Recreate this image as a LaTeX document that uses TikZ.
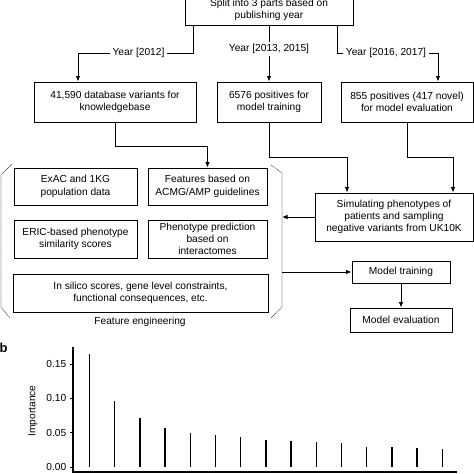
\documentclass[tikz,border=0pt]{standalone}
\usepackage{fontspec}
\setmainfont{Liberation Sans}
\usetikzlibrary{arrows.meta}
\newcommand\fsz{\fontsize{10.2}{12.3}\selectfont}
\begin{document}
\begin{tikzpicture}[x=1pt,y=-1pt,
  box/.style={draw,line width=0.9pt,align=center,inner sep=1pt,font=\fsz},
  arr/.style={line width=0.9pt,-{Latex[length=5.5pt,width=4.5pt]}},
  lab/.style={fill=white,inner sep=2.5pt,font=\fsz},
  brk/.style={line width=0.8pt,black!65,dash pattern=on 0.8pt off 0.7pt},
  bar/.style={line width=1.3pt},
  axis/.style={line width=1.5pt},
  tick/.style={font=\fsz,anchor=east,inner sep=0pt}]
\useasboundingbox (0,0) rectangle (474,474);
\clip (0,0) rectangle (474,474);

% boxes
\node[box,minimum width=168pt,minimum height=31pt] (top) at (269,10) {Split into 3 parts based on\\publishing year};
\node[box,minimum width=162pt,minimum height=40pt] (b1) at (115,102) {41,590 database variants for\\knowledgebase};
\node[box,minimum width=104pt,minimum height=40pt] (b2) at (269,102) {6576 positives for\\model training};
\node[box,minimum width=132pt,minimum height=40pt] (b3) at (407,102) {855 positives (417 novel)\\for model evaluation};
\node[box,minimum width=123pt,minimum height=37pt] (exac) at (75.5,186.5) {ExAC and 1KG\\population data};
\node[box,minimum width=119pt,minimum height=37pt] (acmg) at (207.5,186.5) {Features based on\\ACMG/AMP guidelines};
\node[box,minimum width=123pt,minimum height=38pt] (eric) at (75.5,239) {ERIC-based phenotype\\similarity scores};
\node[box,minimum width=119pt,minimum height=38pt] (pheno) at (207.5,239) {Phenotype prediction\\based on\\interactomes};
\node[box,minimum width=255pt,minimum height=38pt] (insilico) at (140.5,293) {In silico scores, gene level constraints,\\functional consequences, etc.};
\node[font=\fsz] (fe) at (140,322) {Feature engineering};
\node[box,minimum width=158pt,minimum height=48pt] (sim) at (394,217) {Simulating phenotypes of\\patients and sampling\\negative variants from UK10K};
\node[box,minimum width=98pt,minimum height=22pt] (train) at (401,272) {Model training};
\node[box,minimum width=102pt,minimum height=24pt] (eval) at (401,320) {Model evaluation};

% bracket
\coordinate (brR) at (282,0);
\draw[brk] (12,164) -- (1,175) -- (1,307) -- (10,318);
\draw[brk] (271,165) -- (282,173) -- (282,307) -- (271,318);

% helper coordinates
\coordinate (s1) at (193,0);
\coordinate (c1) at (78,53);
\coordinate (s3) at (337,0);
\coordinate (c3) at (438,53);
\coordinate (c4) at (207.5,146);
\coordinate (c5) at (347,157);
\coordinate (c6) at (453,157);

% connectors
\draw[arr] (top.south -| s1) |- (c1) -- (b1.north -| c1);
\draw[arr] (top.south) -- (b2.north);
\draw[arr] (top.south -| s3) |- (c3) -- (b3.north -| c3);
\node[lab] (l1) at (138.5,53) {Year [2012]};
\node[lab] (l2) at (269,49) {Year [2013, 2015]};
\node[lab] (l3) at (386,53) {Year [2016, 2017]};
\draw[arr] (b1.south) |- (c4) -- (acmg.north);
\draw[arr] (b2.south) |- (c5) -- (sim.north -| c5);
\draw[arr] (b3.south) |- (c6) -- (sim.north -| c6);
\draw[arr] (sim.west) -- (sim.west -| brR);
\draw[arr] (train.west -| brR) -- (train.west);
\draw[arr] (train.south) -- (eval.north);

% panel b
\node[anchor=base west,inner sep=0pt,font=\bfseries\fontsize{13}{13}\selectfont] (pb) at (-0.5,352.5) {b};
\draw[axis] (73,347) -- (73,472.75);
\draw[axis] (72.25,472) -- (457,472);
\foreach \v/\t in {0/0.00,0.05/0.05,0.1/0.10,0.15/0.15}{
  \draw[line width=1pt] (70,{467-\v*686}) -- (73,{467-\v*686});
  \node[tick] at (66.5,{467-\v*686}) {\t};
}
\node[rotate=90,font=\fsz] (ylab) at (33,411) {Importance};
\foreach \v [count=\i] in {0.165,0.096,0.072,0.057,0.049,0.046,0.044,0.040,0.0385,0.037,0.0345,0.029,0.0287,0.0273,0.0258}{
  \draw[bar] ({89.5+25.2*(\i-1)},467) -- ++(0,{-\v*686});
}
\end{tikzpicture}
\end{document}
